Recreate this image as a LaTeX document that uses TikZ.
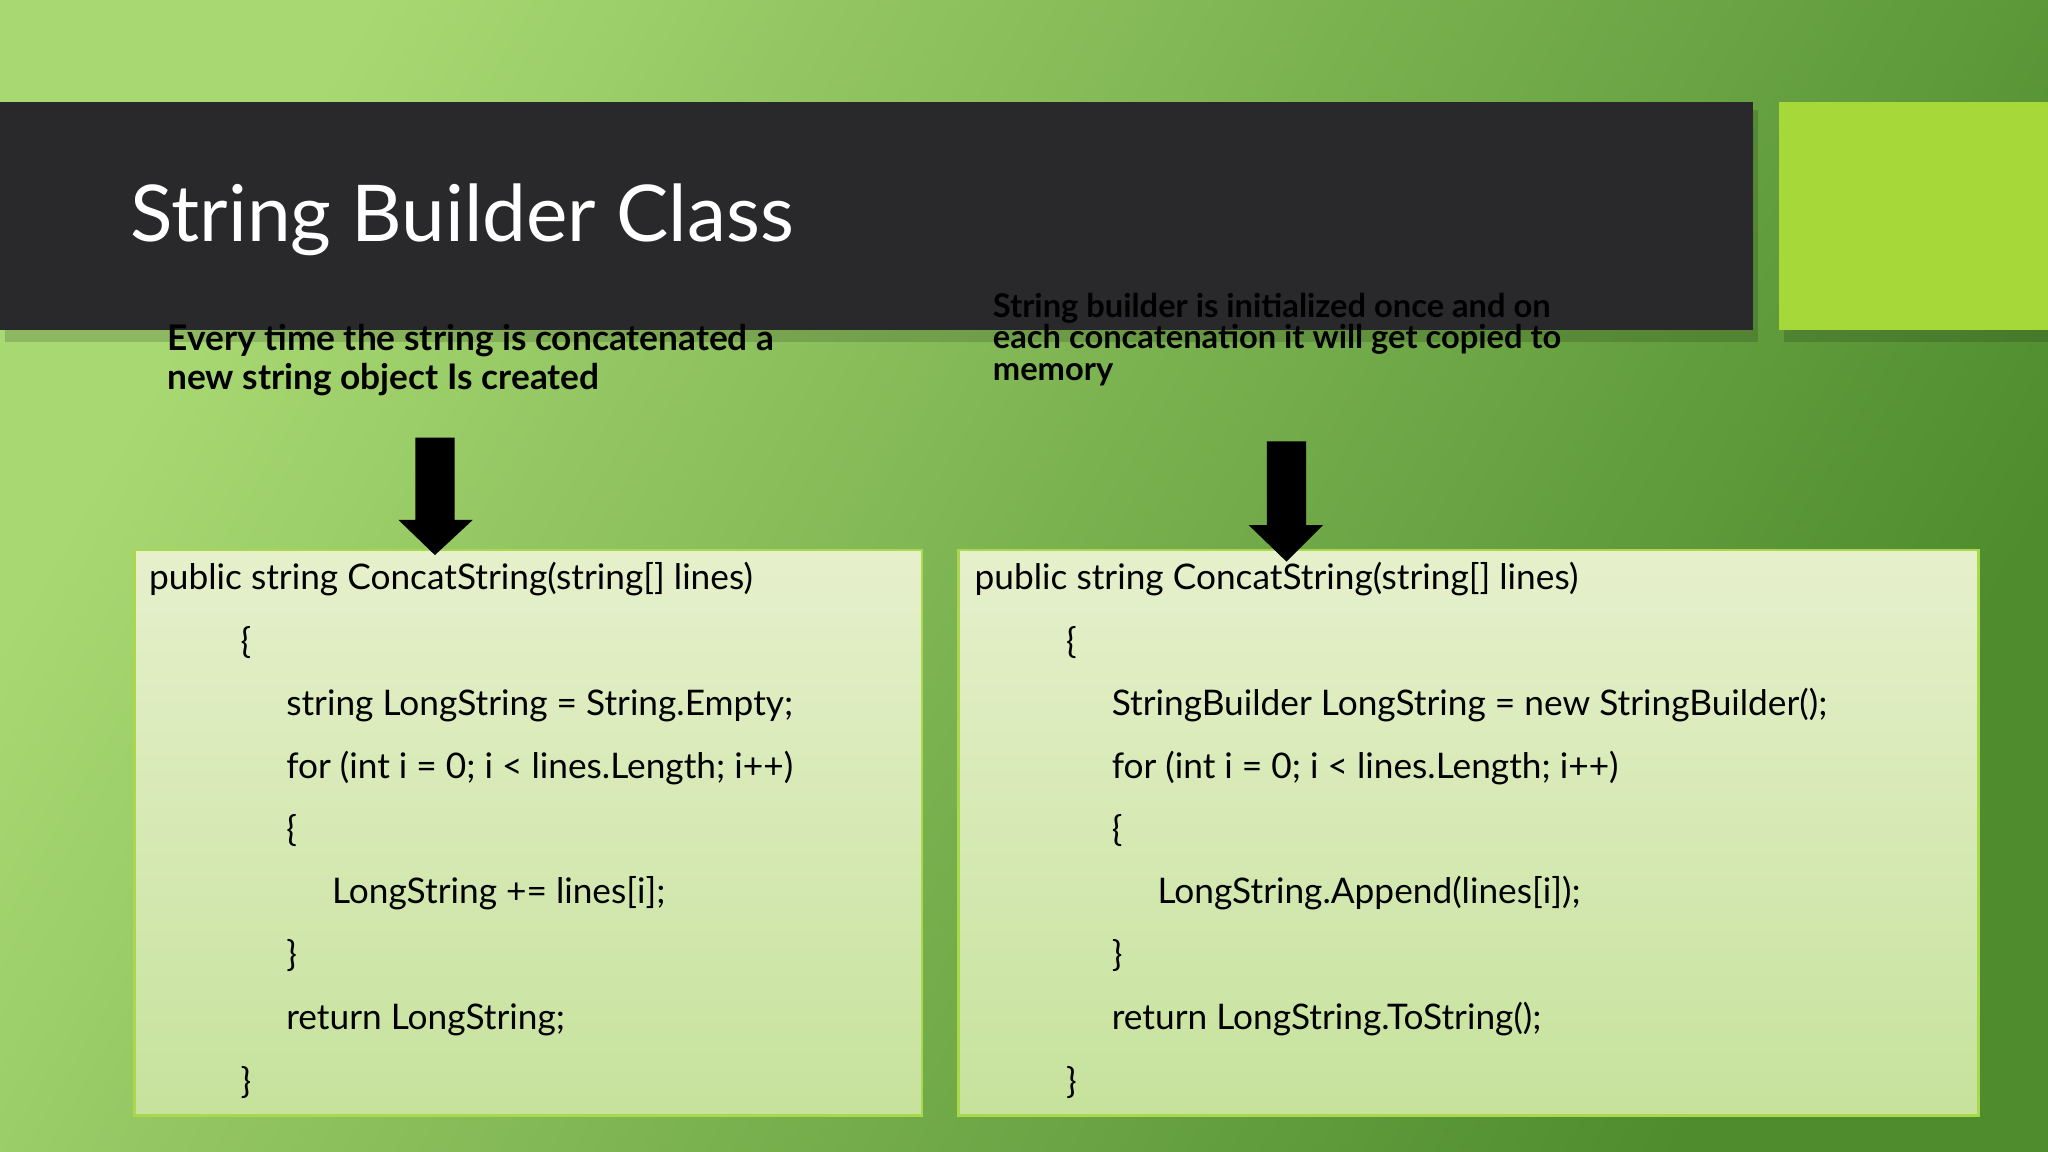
\documentclass[tikz,border=0pt]{standalone}
\usepackage{fontspec}
\setmainfont{Lato}
\usetikzlibrary{positioning}
\definecolor{bgA}{HTML}{A8D872}
\definecolor{bgB}{HTML}{4E8C2E}
\definecolor{bar}{HTML}{29292C}
\definecolor{lime}{HTML}{A6D83A}
\definecolor{boxA}{HTML}{E6F0CC}
\definecolor{boxB}{HTML}{C6E29C}
\definecolor{boxE}{HTML}{A9D84C}
\tikzset{
  code/.style={anchor=base west,inner sep=0pt,font=\fontsize{27}{27}\selectfont},
  head/.style={anchor=base west,inner sep=0pt,font=\bfseries\fontsize{27}{30}\selectfont,align=left},
  codebox/.style={draw=boxE,line width=2pt,top color=boxA,bottom color=boxB},
}
\begin{document}
\begin{tikzpicture}[x=1pt,y=-1pt]
\useasboundingbox (0,0) rectangle (1568,882);
\shade[left color=bgA,right color=bgB,shading angle=60] (0,0) rectangle (1568,882);
\fill[black,opacity=0.15] (4,84) rectangle (1346,262);
\fill[bar] (0,78) rectangle (1342,253);
\fill[black,opacity=0.15] (1366,84) rectangle (1568,262);
\fill[lime] (1362,78) rectangle (1568,253);
\node[anchor=base west,inner sep=0pt,text=white,font=\fontsize{60}{60}\selectfont] (title) at (100,185) {String Builder Class};
\node[head] (lt) at (128,298) {Every time the string is concatenated a\\new string object Is created};
\node[head,font=\bfseries\fontsize{25}{24}\selectfont] (rt) at (760,291) {String builder is initialized once and on\\each concatenation it will get copied to\\memory};
\path[codebox] (103,421) rectangle (706,854);
\path[codebox] (734,421) rectangle (1515,854);
\fill[black] (318,335) -- (348,335) -- (348,398) -- (362,398) -- (333,425) -- (305,398) -- (318,398) -- cycle;
\fill[black] (970,338) -- (1000,338) -- (1000,402) -- (1013,402) -- (985,430) -- (956,402) -- (970,402) -- cycle;
\foreach \dx/\n in {0/L,632/R}{
\node[code] (\n1) at (114+\dx,451) {public string ConcatString(string[] lines)};
\node[code] (\n2) at (184+\dx,500) {\{};
\node[code] (\n5) at (219+\dx,644) {\{};
\node[code] (\n7) at (219+\dx,740) {\}};
\node[code] (\n9) at (184+\dx,837) {\}};
\node[code] (\n4) at (219+\dx,596) {for (int i = 0; i < lines.Length; i++)};
}
\node[code] at (219,548) {string LongString = String.Empty;};
\node[code] at (254,692) {LongString += lines[i];};
\node[code] at (219,788) {return LongString;};
\node[code] at (851,548) {StringBuilder LongString = new StringBuilder();};
\node[code] at (886,692) {LongString.Append(lines[i]);};
\node[code] at (851,788) {return LongString.ToString();};
\end{tikzpicture}
\end{document}
